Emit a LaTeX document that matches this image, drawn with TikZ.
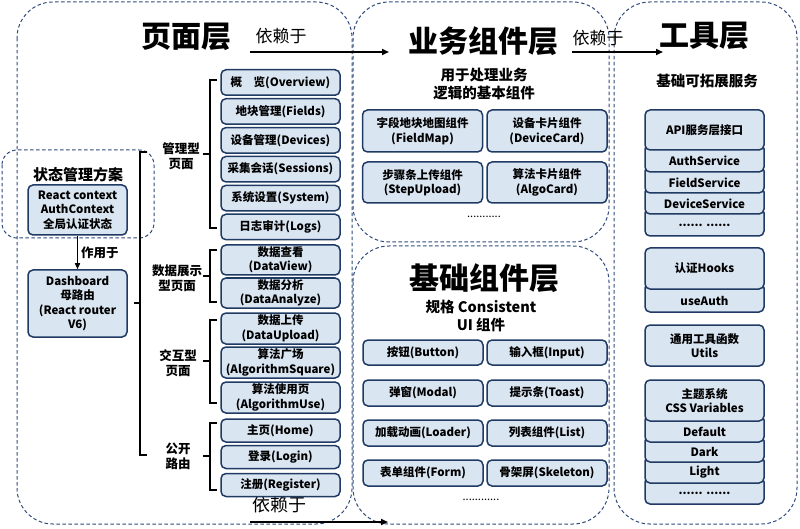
\documentclass[tikz,border=0pt]{standalone}
\usepackage{fontspec}
\setmainfont{Noto Sans CJK SC}
\usetikzlibrary{arrows.meta}
\definecolor{boxfill}{HTML}{DAE5F2}
\definecolor{boxline}{HTML}{1F3A63}
\definecolor{dashline}{HTML}{2F4B7C}
\newcommand\lowr[1]{\raisebox{-3pt}[\height][\depth]{#1}}
\begin{document}
\begin{tikzpicture}[x=1pt,y=-1pt,
  layer/.style={draw=dashline, dash pattern=on 3.5pt off 2.5pt, line width=1pt, rounded corners=36pt},
  smalllayer/.style={draw=dashline, dash pattern=on 3.5pt off 2.5pt, line width=1pt, rounded corners=15pt},
  box/.style={draw=boxline, fill=boxfill, line width=1.5pt, rounded corners=5pt, inner sep=0pt, align=center, text=black, font=\bfseries\fontsize{11.5}{14.5}\selectfont},
  pbox/.style={box, minimum width=119pt},
  bbox/.style={box, minimum width=120pt},
  tbox/.style={box, minimum width=119pt},
  title/.style={font=\bfseries\fontsize{30}{34}\selectfont, inner sep=0pt},
  dep/.style={font=\fontsize{17}{20}\selectfont, inner sep=0pt},
  sub/.style={font=\bfseries\fontsize{14.5}{17.5}\selectfont, align=center, inner sep=0pt},
  grp/.style={font=\bfseries\fontsize{12.5}{15}\selectfont, align=center, inner sep=0pt},
  dots/.style={font=\fontsize{11}{13}\selectfont, inner sep=0pt},
  arr/.style={-{Triangle[length=7pt,width=6pt]}, line width=1.8pt, black},
  brk/.style={line width=1.4pt, black}
]
\useasboundingbox (0,0) rectangle (800,529);

% layers
\draw[layer] (17,2) rectangle (352,524);
\draw[layer] (353,2) rectangle (609,242);
\draw[layer] (353,246) rectangle (609,524);
\draw[layer] (614,2) rectangle (797,524);
\draw[smalllayer] (2,150) rectangle (154,238);

% titles
\node[title] (tpage) at (186,37) {页面层};
\node[dep] (dep1) at (281,36) {依赖于};
\node[title] (tbiz) at (483,41) {业务组件层};
\node[dep] (dep2) at (598,38) {依赖于};
\node[title] (ttool) at (704,36) {工具层};
\node[title] (tbase) at (484,278) {基础组件层};
\node[dep, font=\fontsize{18}{21}\selectfont] (dep3) at (279,505) {依赖于};

% arrows between layers
\coordinate (a1s) at (250,52); \coordinate (a1e) at (389,52);
\coordinate (a2s) at (572,52); \coordinate (a2e) at (663,52);
\coordinate (a3s) at (250,522); \coordinate (a3e) at (388,522);
\draw[arr] (a1s) -- (a1e);
\draw[arr] (a2s) -- (a2e);
\draw[arr] (a3s) -- (a3e);

% state management
\node[font=\bfseries\fontsize{15}{18}\selectfont, inner sep=0pt] (stt) at (78,175) {状态管理方案};
\node[box, minimum width=99pt, minimum height=50pt] (react) at (77.5,210) {React context\\AuthContext\\全局认证状态};
\node[box, minimum width=99pt, minimum height=67pt] (dash) at (77.5,303.5) {Dashboard\\母路由\\(React router\\V6)};
\draw[arr, line width=1.4pt, -{Triangle[length=6pt,width=5pt]}] (react.south) -- (dash.north) node[midway, right=3pt, grp, font=\bfseries\fontsize{12.5}{15}\selectfont] (act) {作用于};

% big bracket
\draw[brk] (147,152) -- (140,152) -- (140,455) -- (147,455);
\draw[brk] (140,303) -- (134,303);

% group labels
\node[grp] (g1) at (181,156) {管理型\\页面};
\node[grp] (g2) at (177,278) {数据展示\\型页面};
\node[grp] (g3) at (178,363) {交互型\\页面};
\node[grp] (g4) at (178,456) {公开\\路由};

% group brackets
\draw[brk] (217,80) -- (210,80) -- (210,228) -- (217,228); \draw[brk] (210,154) -- (203,154);
\draw[brk] (217,250) -- (210,250) -- (210,302) -- (217,302); \draw[brk] (210,276) -- (203,276);
\draw[brk] (217,320) -- (210,320) -- (210,403) -- (217,403); \draw[brk] (210,361) -- (203,361);
\draw[brk] (217,423) -- (210,423) -- (210,490) -- (217,490); \draw[brk] (210,456) -- (203,456);

% page boxes
\node[pbox, minimum height=25.5pt] (ov) at (280.5,82.5) {概\hspace{1em}览(Overview)};
\node[pbox, minimum height=25.5pt] (fi) at (280.5,111.4) {地块管理(Fields)};
\node[pbox, minimum height=25.5pt] (dv) at (280.5,140.3) {设备管理(Devices)};
\node[pbox, minimum height=25.5pt] (se) at (280.5,169.2) {采集会话(Sessions)};
\node[pbox, minimum height=25.5pt] (sy) at (280.5,198.1) {系统设置(System)};
\node[pbox, minimum height=25.5pt] (lo) at (280.5,227) {日志审计(Logs)};
\node[pbox, minimum height=30pt] (dview) at (280.5,260) {数据查看\\(DataView)};
\node[pbox, minimum height=30pt] (dana) at (280.5,293) {数据分析\\(DataAnalyze)};
\node[pbox, minimum height=31pt] (dup) at (280.5,328.5) {数据上传\\(DataUpload)};
\node[pbox, minimum height=31pt] (asq) at (280.5,362.5) {算法广场\\(AlgorithmSquare)};
\node[pbox, minimum height=31pt] (ause) at (280.5,397.5) {算法使用页\\(AlgorithmUse)};
\node[pbox, minimum height=23pt] (home) at (280.5,430.5) {主页(Home)};
\node[pbox, minimum height=23pt] (login) at (280.5,457) {登录(Login)};
\node[pbox, minimum height=23pt] (reg) at (280.5,485) {注册(Register)};

% business layer
\node[sub] (bsub) at (484,84) {用于处理业务\\逻辑的基本组件};
\node[bbox, minimum height=42pt] (fmap) at (422.5,131) {字段地块地图组件\\(FieldMap)};
\node[bbox, minimum height=42pt] (dcard) at (547,131) {设备卡片组件\\(DeviceCard)};
\node[bbox, minimum height=41pt] (sup) at (422.5,182.5) {步骤条上传组件\\(StepUpload)};
\node[bbox, minimum height=41pt] (acard) at (547,182.5) {算法卡片组件\\(AlgoCard)};
\node[dots] (bdots) at (484,217) {...........};

% base layer
\node[sub] (basesub) at (481,316) {规格 Consistent\\UI 组件};
\node[bbox, minimum height=25pt] (btn) at (423,352.5) {按钮(Button)};
\node[bbox, minimum height=25pt] (inp) at (547,352.5) {输入框(Input)};
\node[bbox, minimum height=26pt] (modal) at (423,393) {弹窗(Modal)};
\node[bbox, minimum height=26pt] (toast) at (547,393) {提示条(Toast)};
\node[bbox, minimum height=26pt] (load) at (423,433) {加载动画(Loader)};
\node[bbox, minimum height=26pt] (list) at (547,433) {列表组件(List)};
\node[bbox, minimum height=26pt] (form) at (423,473) {表单组件(Form)};
\node[bbox, minimum height=26pt] (skel) at (547,473) {骨架屏(Skeleton)};
\node[dots] (basedots) at (481,500) {............};

% tool layer
\node[sub] (tsub) at (707,81) {基础可拓展服务};
% API stack
\node[tbox, minimum height=28pt] (api4) at (704.5,222) {\lowr{...... ......}};
\node[tbox, minimum height=27pt] (api3) at (704.5,200.5) {\lowr{DeviceService}};
\node[tbox, minimum height=27pt] (api2) at (704.5,179.5) {\lowr{FieldService}};
\node[tbox, minimum height=28pt] (api1) at (704.5,158) {\lowr{AuthService}};
\node[tbox, minimum height=40pt] (api) at (704.5,130) {API服务层接口};
% hooks
\node[tbox, minimum height=29pt] (hk1) at (704.5,297.5) {\lowr{useAuth}};
\node[tbox, minimum height=41pt] (hk) at (704.5,268.5) {认证Hooks};
% utils
\node[tbox, minimum height=41pt] (ut) at (704.5,345.5) {通用工具函数\\Utils};
% theme
\node[tbox, minimum height=27pt] (th4) at (704.5,490.5) {\lowr{...... ......}};
\node[tbox, minimum height=27pt] (th3) at (704.5,469.5) {\lowr{Light}};
\node[tbox, minimum height=26pt] (th2) at (704.5,449) {\lowr{Dark}};
\node[tbox, minimum height=27pt] (th1) at (704.5,428.5) {\lowr{Default}};
\node[tbox, minimum height=41pt] (th) at (704.5,400.5) {主题系统\\CSS Variables};
\end{tikzpicture}
\end{document}
